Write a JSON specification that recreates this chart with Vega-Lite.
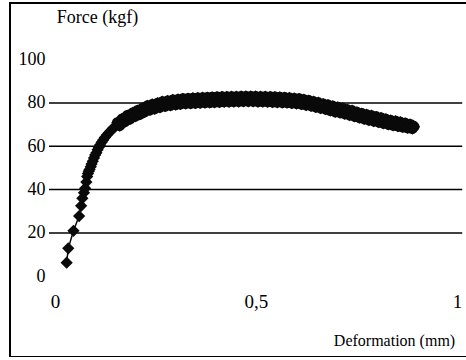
{
  "$schema": "https://vega.github.io/schema/vega-lite/v6.json",
  "width": 460,
  "height": 354,
  "autosize": {"type": "none"},
  "padding": {"left": 10, "top": 3, "right": 0, "bottom": 0},
  "background": "white",
  "view": {"stroke": "black", "strokeWidth": 2},
  "config": {"font": "Times New Roman"},
  "datasets": {
    "grid": [{"g": 20}, {"g": 40}, {"g": 60}, {"g": 80}],
    "curve": [
      {"d": 0.029, "f": 6.3}, {"d": 0.033, "f": 12.9}, {"d": 0.046, "f": 21.0}, {"d": 0.060, "f": 27.8},
      {"d": 0.065, "f": 32.5}, {"d": 0.068, "f": 36.0}, {"d": 0.072, "f": 38.6}, {"d": 0.075, "f": 40.6},
      {"d": 0.078, "f": 43.5}, {"d": 0.080, "f": 46.0}, {"d": 0.082, "f": 47.4}, {"d": 0.084, "f": 48.5},
      {"d": 0.086, "f": 49.3}, {"d": 0.089, "f": 50.6}, {"d": 0.091, "f": 51.8}, {"d": 0.094, "f": 53.1},
      {"d": 0.097, "f": 54.6}, {"d": 0.100, "f": 56.0}, {"d": 0.103, "f": 57.0}, {"d": 0.106, "f": 58.4},
      {"d": 0.109, "f": 59.5}, {"d": 0.112, "f": 60.6}, {"d": 0.116, "f": 61.9}, {"d": 0.120, "f": 62.9},
      {"d": 0.124, "f": 64.0}, {"d": 0.129, "f": 65.2}, {"d": 0.134, "f": 66.3}, {"d": 0.139, "f": 67.2},
      {"d": 0.144, "f": 68.2}, {"d": 0.149, "f": 69.0},
      {"d": 0.155, "f": 70.9}, {"d": 0.158, "f": 70.0}, {"d": 0.161, "f": 69.5}, {"d": 0.164, "f": 71.8}, {"d": 0.167, "f": 72.6}, {"d": 0.170, "f": 71.6}, {"d": 0.174, "f": 71.3},
      {"d": 0.177, "f": 73.4}, {"d": 0.180, "f": 74.2}, {"d": 0.183, "f": 73.1}, {"d": 0.186, "f": 72.5}, {"d": 0.189, "f": 74.6}, {"d": 0.193, "f": 75.4}, {"d": 0.196, "f": 74.4}, {"d": 0.199, "f": 73.8},
      {"d": 0.202, "f": 75.8}, {"d": 0.205, "f": 76.5}, {"d": 0.208, "f": 75.3}, {"d": 0.211, "f": 74.7}, {"d": 0.214, "f": 76.8}, {"d": 0.217, "f": 77.5}, {"d": 0.220, "f": 76.4}, {"d": 0.223, "f": 75.8},
      {"d": 0.227, "f": 78.0}, {"d": 0.230, "f": 78.7}, {"d": 0.233, "f": 77.5}, {"d": 0.236, "f": 76.8}, {"d": 0.239, "f": 78.7}, {"d": 0.242, "f": 79.3}, {"d": 0.245, "f": 78.0}, {"d": 0.248, "f": 77.3},
      {"d": 0.252, "f": 79.3}, {"d": 0.255, "f": 79.9}, {"d": 0.258, "f": 78.7}, {"d": 0.261, "f": 78.0}, {"d": 0.264, "f": 79.9}, {"d": 0.267, "f": 80.6}, {"d": 0.271, "f": 79.3}, {"d": 0.274, "f": 78.5},
      {"d": 0.277, "f": 80.3}, {"d": 0.280, "f": 80.9}, {"d": 0.284, "f": 79.6}, {"d": 0.287, "f": 78.9}, {"d": 0.290, "f": 80.8}, {"d": 0.293, "f": 81.4}, {"d": 0.297, "f": 80.0}, {"d": 0.300, "f": 79.2},
      {"d": 0.303, "f": 81.0}, {"d": 0.306, "f": 81.6}, {"d": 0.309, "f": 80.3}, {"d": 0.312, "f": 79.5}, {"d": 0.315, "f": 81.3}, {"d": 0.318, "f": 81.9}, {"d": 0.322, "f": 80.5}, {"d": 0.325, "f": 79.7},
      {"d": 0.328, "f": 81.4}, {"d": 0.331, "f": 82.0}, {"d": 0.334, "f": 80.6}, {"d": 0.337, "f": 79.8}, {"d": 0.340, "f": 81.6}, {"d": 0.343, "f": 82.2}, {"d": 0.346, "f": 80.8}, {"d": 0.349, "f": 79.9},
      {"d": 0.352, "f": 81.7}, {"d": 0.355, "f": 82.3}, {"d": 0.358, "f": 80.9}, {"d": 0.361, "f": 80.0}, {"d": 0.364, "f": 81.8}, {"d": 0.367, "f": 82.4}, {"d": 0.370, "f": 81.0}, {"d": 0.373, "f": 80.1},
      {"d": 0.376, "f": 81.9}, {"d": 0.379, "f": 82.5}, {"d": 0.382, "f": 81.1}, {"d": 0.385, "f": 80.2}, {"d": 0.388, "f": 82.0}, {"d": 0.391, "f": 82.6}, {"d": 0.394, "f": 81.2}, {"d": 0.397, "f": 80.3},
      {"d": 0.400, "f": 82.1}, {"d": 0.403, "f": 82.7}, {"d": 0.406, "f": 81.3}, {"d": 0.409, "f": 80.4}, {"d": 0.412, "f": 82.2}, {"d": 0.415, "f": 82.8}, {"d": 0.418, "f": 81.4}, {"d": 0.421, "f": 80.5},
      {"d": 0.424, "f": 82.2}, {"d": 0.427, "f": 82.8}, {"d": 0.430, "f": 81.4}, {"d": 0.433, "f": 80.5}, {"d": 0.436, "f": 82.3}, {"d": 0.439, "f": 82.9}, {"d": 0.442, "f": 81.5}, {"d": 0.445, "f": 80.6},
      {"d": 0.448, "f": 82.3}, {"d": 0.451, "f": 82.9}, {"d": 0.454, "f": 81.5}, {"d": 0.457, "f": 80.6}, {"d": 0.460, "f": 82.4}, {"d": 0.463, "f": 83.0}, {"d": 0.466, "f": 81.6}, {"d": 0.469, "f": 80.7},
      {"d": 0.472, "f": 82.4}, {"d": 0.475, "f": 83.0}, {"d": 0.478, "f": 81.6}, {"d": 0.481, "f": 80.7}, {"d": 0.484, "f": 82.4}, {"d": 0.487, "f": 83.0}, {"d": 0.490, "f": 81.6}, {"d": 0.493, "f": 80.7},
      {"d": 0.496, "f": 82.4}, {"d": 0.499, "f": 83.0}, {"d": 0.502, "f": 81.6}, {"d": 0.505, "f": 80.6}, {"d": 0.508, "f": 82.3}, {"d": 0.511, "f": 82.9}, {"d": 0.514, "f": 81.5}, {"d": 0.517, "f": 80.6},
      {"d": 0.520, "f": 82.3}, {"d": 0.523, "f": 82.9}, {"d": 0.526, "f": 81.4}, {"d": 0.529, "f": 80.5}, {"d": 0.532, "f": 82.2}, {"d": 0.535, "f": 82.8}, {"d": 0.538, "f": 81.3}, {"d": 0.541, "f": 80.4},
      {"d": 0.544, "f": 82.1}, {"d": 0.547, "f": 82.7}, {"d": 0.550, "f": 81.2}, {"d": 0.553, "f": 80.3}, {"d": 0.556, "f": 82.0}, {"d": 0.559, "f": 82.6}, {"d": 0.562, "f": 81.1}, {"d": 0.565, "f": 80.2},
      {"d": 0.568, "f": 81.9}, {"d": 0.571, "f": 82.5}, {"d": 0.574, "f": 81.0}, {"d": 0.577, "f": 80.1}, {"d": 0.580, "f": 81.7}, {"d": 0.583, "f": 82.3}, {"d": 0.586, "f": 80.8}, {"d": 0.589, "f": 79.9},
      {"d": 0.592, "f": 81.5}, {"d": 0.595, "f": 82.1}, {"d": 0.598, "f": 80.6}, {"d": 0.601, "f": 79.7}, {"d": 0.604, "f": 81.3}, {"d": 0.607, "f": 81.9}, {"d": 0.610, "f": 80.3}, {"d": 0.613, "f": 79.4},
      {"d": 0.616, "f": 80.9}, {"d": 0.619, "f": 81.5}, {"d": 0.622, "f": 79.9}, {"d": 0.625, "f": 79.0}, {"d": 0.628, "f": 80.5}, {"d": 0.631, "f": 81.1}, {"d": 0.634, "f": 79.5}, {"d": 0.637, "f": 78.6},
      {"d": 0.640, "f": 80.0}, {"d": 0.643, "f": 80.6}, {"d": 0.646, "f": 79.0}, {"d": 0.649, "f": 78.1}, {"d": 0.652, "f": 79.5}, {"d": 0.655, "f": 80.1}, {"d": 0.658, "f": 78.5}, {"d": 0.661, "f": 77.6},
      {"d": 0.664, "f": 78.9}, {"d": 0.667, "f": 79.5}, {"d": 0.670, "f": 78.0}, {"d": 0.673, "f": 77.1}, {"d": 0.676, "f": 78.4}, {"d": 0.679, "f": 79.0}, {"d": 0.682, "f": 77.4}, {"d": 0.685, "f": 76.5},
      {"d": 0.688, "f": 77.9}, {"d": 0.691, "f": 78.5}, {"d": 0.694, "f": 76.8}, {"d": 0.697, "f": 75.9}, {"d": 0.700, "f": 77.4}, {"d": 0.703, "f": 78.0}, {"d": 0.706, "f": 76.4}, {"d": 0.709, "f": 75.5},
      {"d": 0.712, "f": 76.9}, {"d": 0.715, "f": 77.5}, {"d": 0.718, "f": 75.9}, {"d": 0.721, "f": 75.0}, {"d": 0.724, "f": 76.3}, {"d": 0.727, "f": 76.9}, {"d": 0.730, "f": 75.3}, {"d": 0.733, "f": 74.4},
      {"d": 0.736, "f": 75.8}, {"d": 0.739, "f": 76.4}, {"d": 0.742, "f": 74.7}, {"d": 0.745, "f": 73.8}, {"d": 0.748, "f": 75.1}, {"d": 0.751, "f": 75.7}, {"d": 0.754, "f": 74.1}, {"d": 0.757, "f": 73.2},
      {"d": 0.760, "f": 74.5}, {"d": 0.763, "f": 75.1}, {"d": 0.766, "f": 73.5}, {"d": 0.769, "f": 72.6}, {"d": 0.772, "f": 74.0}, {"d": 0.775, "f": 74.6}, {"d": 0.778, "f": 73.0}, {"d": 0.781, "f": 72.1},
      {"d": 0.784, "f": 73.5}, {"d": 0.787, "f": 74.1}, {"d": 0.790, "f": 72.5}, {"d": 0.793, "f": 71.6}, {"d": 0.796, "f": 73.0}, {"d": 0.799, "f": 73.6}, {"d": 0.802, "f": 72.0}, {"d": 0.805, "f": 71.1},
      {"d": 0.808, "f": 72.5}, {"d": 0.811, "f": 73.1}, {"d": 0.814, "f": 71.5}, {"d": 0.817, "f": 70.6}, {"d": 0.820, "f": 71.9}, {"d": 0.823, "f": 72.5}, {"d": 0.826, "f": 71.0}, {"d": 0.829, "f": 70.1},
      {"d": 0.832, "f": 71.3}, {"d": 0.835, "f": 71.9}, {"d": 0.838, "f": 70.5}, {"d": 0.841, "f": 69.7}, {"d": 0.844, "f": 71.0}, {"d": 0.847, "f": 71.6}, {"d": 0.850, "f": 70.1}, {"d": 0.853, "f": 69.3},
      {"d": 0.856, "f": 70.5}, {"d": 0.859, "f": 71.1}, {"d": 0.862, "f": 69.7}, {"d": 0.865, "f": 68.9}, {"d": 0.868, "f": 70.0}, {"d": 0.871, "f": 70.6}, {"d": 0.874, "f": 69.2}, {"d": 0.877, "f": 68.5},
      {"d": 0.880, "f": 69.5}, {"d": 0.883, "f": 70.1}, {"d": 0.886, "f": 68.9}, {"d": 0.889, "f": 68.2}, {"d": 0.891, "f": 69.4}, {"d": 0.893, "f": 69.0}
    ]
  },
  "layer": [
    {
      "data": {"name": "grid"},
      "mark": {"type": "rule", "color": "black", "strokeWidth": 1.5},
      "encoding": {
        "y": {"field": "g", "type": "quantitative", "scale": {"domain": [-37.24, 126.12], "nice": false, "zero": false},
          "axis": {"values": [0, 20, 40, 60, 80, 100], "orient": "left", "offset": -37, "domain": false, "ticks": false, "grid": false,
            "labelFont": "Times New Roman", "labelFontSize": 18, "labelColor": "black", "labelPadding": 2, "labelOverlap": false,
            "title": "Force (kgf)", "titleFont": "Times New Roman", "titleFontSize": 18, "titleFontWeight": "normal", "titleColor": "black",
            "titleAngle": 0, "titleAlign": "center", "titleBaseline": "middle", "titleX": 50, "titleY": 14}},
        "x": {"datum": -0.015, "type": "quantitative", "scale": {"domain": [-0.11194, 1.03234], "nice": false, "zero": false},
          "axis": {"values": [0, 0.5, 1], "orient": "bottom", "offset": -67, "domain": false, "ticks": false, "grid": false,
            "format": "~g", "labelExpr": "replace(datum.label, '.', ',')",
            "labelFont": "Times New Roman", "labelFontSize": 19, "labelColor": "black", "labelPadding": 2, "labelOverlap": false, "labelFlush": false, "labelBound": false,
            "title": "Deformation (mm)", "titleFont": "Times New Roman", "titleFontSize": 16, "titleFontWeight": "normal", "titleColor": "black",
            "titleAlign": "center", "titleBaseline": "middle", "titleX": 384, "titleY": 50}},
        "x2": {"datum": 1.013}
      }
    },
    {
      "data": {"name": "curve"},
      "mark": {"type": "line", "color": "#0a0a0a", "strokeWidth": 1.5},
      "encoding": {
        "x": {"field": "d", "type": "quantitative"},
        "y": {"field": "f", "type": "quantitative"}
      }
    },
    {
      "data": {"name": "curve"},
      "transform": [{"filter": "datum.d >= 0.15"}],
      "mark": {"type": "line", "color": "#0a0a0a", "strokeWidth": 11, "strokeCap": "round", "strokeJoin": "round"},
      "encoding": {
        "x": {"field": "d", "type": "quantitative"},
        "y": {"field": "f", "type": "quantitative"}
      }
    },
    {
      "data": {"name": "curve"},
      "mark": {"type": "point", "shape": "diamond", "filled": true, "size": 150, "color": "#0a0a0a", "opacity": 1},
      "encoding": {
        "x": {"field": "d", "type": "quantitative"},
        "y": {"field": "f", "type": "quantitative"}
      }
    }
  ]
}
